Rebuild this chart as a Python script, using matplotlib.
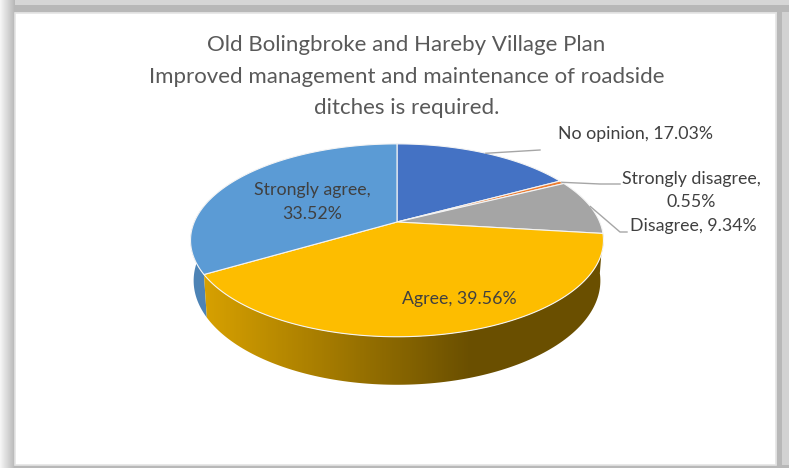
import numpy as np
import matplotlib
matplotlib.use("Agg")
import matplotlib.pyplot as plt
from matplotlib.patches import Polygon, Rectangle

categories = ["No opinion", "Strongly disagree", "Disagree", "Agree", "Strongly agree"]
shares = [17.03, 0.55, 9.34, 39.56, 33.52]
colors = ["#4472c4", "#ed7d31", "#a5a5a5", "#fdbd00", "#5b9bd5"]
title_lines = ["Old Bolingbroke and Hareby Village Plan",
               "Improved management and maintenance of roadside",
               "ditches is required."]

plt.rcParams["font.family"] = ["Lato", "DejaVu Sans"]

W, H = 789, 468
fig = plt.figure(figsize=(W / 100, H / 100), dpi=100, facecolor="#d2d2d2")
ax = fig.add_axes([0, 0, 1, 1])
ax.set_xlim(0, W)
ax.set_ylim(H, 0)
ax.axis("off")

# pie geometry, a circle seen in perspective
cx, cy = 397, 222
rx, ry, k = 202.7, 92.95, 0.19
depth = 38.9
shrink = 0.985


def top_pt(a):
    u, v = np.sin(a), np.cos(a)
    w = 1 + k * v
    return cx + rx * u / w, cy - ry * v / w


def bottom_pt(a):
    x, y = top_pt(a)
    w = 1 + k * np.cos(a)
    return cx + (x - cx) * shrink, y + depth / w


# frame around the picture
ax.add_patch(Rectangle((0, 0), W, 5, fc="#d6d6d6", ec="none"))
ax.add_patch(Rectangle((0, 5), W, 7, fc="#b8b8b8", ec="none"))
ax.add_patch(Rectangle((777, 5), 5, H, fc="#b8b8b8", ec="none"))
ax.add_patch(Rectangle((0, 465), W, 3, fc="#b8b8b8", ec="none"))
left = np.linspace(0.96, 0.72, 15).reshape(1, -1)
ax.imshow(left, extent=(0, 15, H, 0), cmap="gray", vmin=0, vmax=1, aspect="auto", zorder=1)
ax.add_patch(Rectangle((15, 12.5), 761.5, 452, fc="white", ec="#e4e4e4", lw=1.2, zorder=2))

edges = np.radians(np.concatenate([[0], np.cumsum(shares)]) * 3.6)

# side wall, shaded from left to right
grad_x = np.linspace(180, 620, 220)
shade = np.interp(grad_x, [204, 470], [0.85, 0.42])
for i in [4, 3]:
    a = np.linspace(edges[i], edges[i + 1], 120)
    tx, ty = top_pt(a)
    bx, by = bottom_pt(a)
    pts = np.column_stack([np.r_[tx, bx[::-1]], np.r_[ty, by[::-1]]])
    poly = Polygon(pts, closed=True, fc="none", ec="none", transform=ax.transData)
    ax.add_patch(poly)
    base = np.array(matplotlib.colors.to_rgb(colors[i]))
    img = (shade[:, None] * base)[None, :, :]
    im = ax.imshow(img, extent=(180, 620, 400, 200), aspect="auto", zorder=3)
    im.set_clip_path(poly)

# top face
for i in range(len(shares)):
    a = np.linspace(edges[i], edges[i + 1], 120)
    tx, ty = top_pt(a)
    pts = np.column_stack([np.r_[cx, tx], np.r_[cy, ty]])
    ax.add_patch(Polygon(pts, closed=True, fc=colors[i], ec="#f4f4f4", lw=0.8,
                         joinstyle="round", zorder=4))

# leader lines start at the middle of the slice's rim
mids = (edges[:-1] + edges[1:]) / 2
line_c = "#a6a6a6"
x0, y0 = top_pt(mids[0])
ax.plot([x0, 540], [y0, 150], color=line_c, lw=1, zorder=5)
x1, y1 = top_pt(mids[1])
ax.plot([x1, 600, 620], [y1, 184, 184], color=line_c, lw=1, zorder=5)
x2, y2 = top_pt(mids[2])
ax.plot([x2, 620, 627], [y2, 232, 232], color=line_c, lw=1, zorder=5)

# text
for line, y in zip(title_lines, [45, 77, 108]):
    ax.text(406.5, y, line, ha="center", va="center", fontsize=16, color="#595959", zorder=6)

lab = "#404040"
fs = 12.8
ax.text(635.5, 134, f"{categories[0]}, {shares[0]:.2f}%", ha="center", va="center", fontsize=fs, color=lab, zorder=6)
ax.text(691.5, 179, f"{categories[1]},", ha="center", va="center", fontsize=fs, color=lab, zorder=6)
ax.text(691.5, 202, f"{shares[1]:.2f}%", ha="center", va="center", fontsize=fs, color=lab, zorder=6)
ax.text(693, 226, f"{categories[2]}, {shares[2]:.2f}%", ha="center", va="center", fontsize=fs, color=lab, zorder=6)
ax.text(459.5, 299, f"{categories[3]}, {shares[3]:.2f}%", ha="center", va="center", fontsize=fs, color=lab, zorder=6)
ax.text(312, 190, f"{categories[4]},", ha="center", va="center", fontsize=fs, color=lab, zorder=6)
ax.text(312, 214, f"{shares[4]:.2f}%", ha="center", va="center", fontsize=fs, color=lab, zorder=6)

ax.set_xlim(0, W)
ax.set_ylim(H, 0)
fig.savefig("out.png", dpi=100, facecolor=fig.get_facecolor())
